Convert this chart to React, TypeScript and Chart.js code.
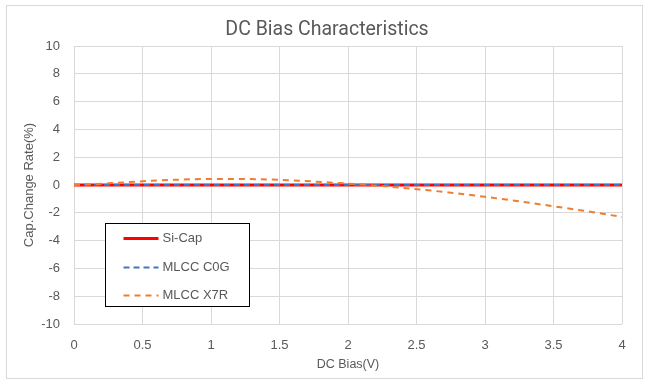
import React, { useEffect, useRef } from "react";
import { Chart, registerables } from "chart.js";

Chart.register(...registerables);

const biasV = [0, 0.25, 0.5, 0.75, 1, 1.25, 1.5, 1.75, 2, 2.25, 2.5, 2.75, 3, 3.25, 3.5, 3.75, 4];
const siCap = [0, 0, 0, 0, 0, 0, 0, 0, 0, 0, 0, 0, 0, 0, 0, 0, 0];
const mlccC0G = [0, 0, 0, 0, 0, 0, 0, 0, 0, 0, 0, 0, 0, 0, 0, 0, 0];
const mlccX7R = [0, 0.12, 0.27, 0.38, 0.43, 0.43, 0.37, 0.25, 0.1, -0.08, -0.3, -0.55, -0.85, -1.18, -1.53, -1.9, -2.3];
const seriesNames = ["Si-Cap", "MLCC C0G", "MLCC X7R"];
const chartTitle = "DC Bias Characteristics";
const xTitle = "DC Bias(V)";
const yTitle = "Cap.Change Rate(%)";

const TXT = "#595959";
const FONT = "'Liberation Sans', Arial, sans-serif";

export default function App() {
  const ref = useRef<HTMLCanvasElement>(null);
  useEffect(() => {
    document.body.style.margin = "0";
    const toPts = (ys: number[]) => biasV.map((x, i) => ({ x, y: ys[i] }));
    const decor = {
      id: "decor",
      beforeDraw(chart: any) {
        const { ctx, width, height } = chart;
        ctx.save();
        ctx.fillStyle = "#fff";
        ctx.fillRect(0, 0, width, height);
        ctx.strokeStyle = "#d9d9d9";
        ctx.lineWidth = 1;
        ctx.strokeRect(6.5, 5.5, width - 13, height - 12);
        ctx.fillStyle = TXT;
        ctx.font = "19.5px Roboto, sans-serif";
        ctx.textAlign = "center";
        ctx.textBaseline = "middle";
        ctx.fillText(chartTitle, 327, 30);
        ctx.restore();
      },
      afterDraw(chart: any) {
        const { ctx, chartArea } = chart;
        const bx = chartArea.left + 31.5;
        const by = chartArea.top + 177.5;
        ctx.save();
        ctx.fillStyle = "#fff";
        ctx.fillRect(bx, by, 144, 83);
        ctx.strokeStyle = "#000";
        ctx.lineWidth = 1;
        ctx.strokeRect(bx, by, 144, 83);
        const ds = chart.data.datasets;
        const rows = [15, 44, 72];
        ds.forEach((d: any, i: number) => {
          const y = by + rows[i];
          ctx.beginPath();
          ctx.strokeStyle = d.borderColor;
          ctx.lineWidth = d.borderWidth;
          ctx.setLineDash(d.borderDash || []);
          ctx.moveTo(bx + 18, y);
          ctx.lineTo(bx + 53, y);
          ctx.stroke();
          ctx.setLineDash([]);
          ctx.fillStyle = TXT;
          ctx.font = `13px ${FONT}`;
          ctx.textAlign = "left";
          ctx.textBaseline = "middle";
          ctx.fillText(d.label, bx + 57, y);
        });
        ctx.restore();
      },
    };
    const chart = new Chart(ref.current!, {
      type: "scatter",
      data: {
        datasets: [
          { label: seriesNames[0], data: toPts(siCap), showLine: true, borderColor: "#FF0000", borderWidth: 3, pointRadius: 0, order: 3 },
          { label: seriesNames[1], data: toPts(mlccC0G), showLine: true, borderColor: "#4472C4", borderWidth: 2, borderDash: [6, 4], pointRadius: 0, order: 2 },
          { label: seriesNames[2], data: toPts(mlccX7R), showLine: true, borderColor: "#ED7D31", borderWidth: 2, borderDash: [6, 5], pointRadius: 0, cubicInterpolationMode: "monotone", order: 1 },
        ],
      } as any,
      options: {
        animation: false,
        responsive: false,
        devicePixelRatio: 1,
        layout: { padding: { left: 0, top: 46, right: 27, bottom: 0 } },
        plugins: { legend: { display: false }, title: { display: false }, tooltip: { enabled: false } },
        scales: {
          x: {
            type: "linear",
            min: 0,
            max: 4,
            ticks: { stepSize: 0.5, color: TXT, font: { family: FONT, size: 13 }, padding: 14, callback: (v: any) => String(v) },
            grid: { color: "#d9d9d9", drawTicks: false },
            border: { display: false },
            title: { display: true, text: xTitle, color: TXT, font: { family: FONT, size: 12.5 }, padding: { top: 0, bottom: 13 } },
            afterFit: (s: any) => { s.height = 61; },
          },
          y: {
            min: -10,
            max: 10,
            ticks: { stepSize: 2, color: TXT, font: { family: FONT, size: 13 }, padding: 14 },
            grid: { color: "#d9d9d9", drawTicks: false },
            border: { display: false },
            title: { display: true, text: yTitle, color: TXT, font: { family: FONT, size: 13 }, padding: { top: 22, bottom: 0 } },
            afterFit: (s: any) => { s.width = 74; },
          },
        },
      } as any,
      plugins: [decor],
    });
    return () => chart.destroy();
  }, []);
  return (
    <div style={{ width: 649, height: 385 }}>
      <canvas ref={ref} width={649} height={385} />
    </div>
  );
}
